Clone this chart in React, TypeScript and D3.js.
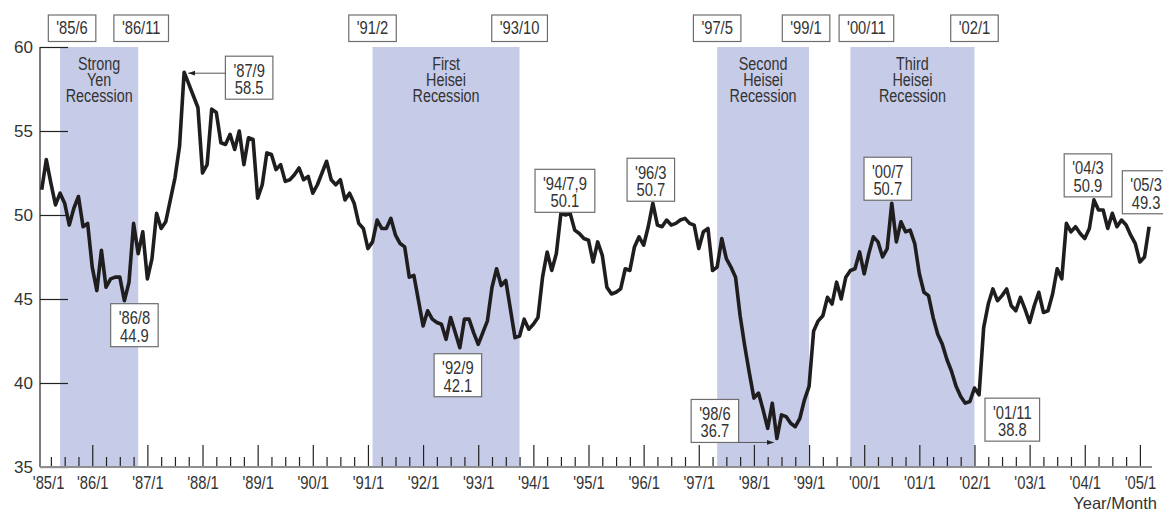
import React, { useEffect, useRef } from "react";
import * as d3 from "d3";

// monthly index, '85/2 .. '05/3 (one row per calendar year)
const seriesStart = "1985-02";
const seriesValues = [
  51.5, 53.3, 51.9, 50.6, 51.3, 50.7, 49.4, 50.4, 51.1, 49.3, 49.5,
  46.9, 45.5, 47.9, 45.7, 46.2, 46.3, 46.3, 44.9, 46.0, 49.5, 47.7, 49.0,
  46.2, 47.4, 50.1, 49.2, 49.6, 50.9, 52.2, 54.1, 58.5, 57.8, 57.1, 56.4,
  52.5, 53.0, 56.3, 56.1, 54.3, 54.2, 54.8, 53.9, 55.0, 53.0, 54.6, 54.5,
  51.0, 51.8, 53.7, 53.6, 52.7, 53.0, 52.0, 52.1, 52.4, 52.8, 52.1, 52.3,
  51.3, 51.8, 52.5, 53.2, 52.1, 51.8, 52.1, 50.9, 51.3, 50.7, 49.5, 49.2,
  48.0, 48.4, 49.7, 49.2, 49.2, 49.8, 48.8, 48.3, 48.1, 46.3, 46.4, 44.9,
  43.4, 44.3, 43.8, 43.6, 43.5, 42.6, 43.9, 43.0, 42.1, 43.8, 43.8, 43.0,
  42.3, 43.0, 43.7, 45.7, 46.8, 45.8, 46.1, 44.4, 42.7, 42.8, 43.8, 43.2,
  43.5, 43.9, 46.3, 47.8, 46.7, 47.7, 50.1, 50.0, 50.1, 49.1, 48.9, 48.6,
  48.5, 47.2, 48.4, 47.6, 45.7, 45.3, 45.4, 45.6, 46.8, 46.7, 48.1, 48.7,
  48.2, 49.3, 50.7, 49.4, 49.3, 49.7, 49.4, 49.5, 49.7, 49.8, 49.5, 49.4,
  48.0, 49.0, 49.2, 46.7, 46.9, 48.6, 47.4, 46.9, 46.3, 44.0, 42.2, 40.6,
  39.1, 39.4, 38.4, 37.3, 38.8, 36.7, 38.1, 38.0, 37.6, 37.4, 37.9, 39.0,
  39.8, 43.1, 43.7, 44.0, 45.1, 44.7, 46.0, 45.0, 46.3, 46.7, 46.8, 47.8,
  46.5, 47.7, 48.7, 48.4, 47.5, 48.0, 50.7, 48.4, 49.6, 49.0, 49.1, 48.3,
  46.5, 45.4, 45.2, 43.9, 42.9, 42.3, 41.4, 40.7, 39.8, 39.2, 38.8, 38.9,
  39.7, 39.3, 43.3, 44.7, 45.6, 44.9, 45.2, 45.6, 44.6, 44.3, 45.1, 44.4,
  43.6, 44.6, 45.4, 44.2, 44.3, 45.3, 46.8, 46.2, 49.5, 49.0, 49.3, 48.9,
  48.6, 49.2, 50.9, 50.3, 50.3, 49.2, 50.1, 49.3, 49.7, 49.4, 48.8, 48.3,
  47.2, 47.5, 49.3,
];

const yTicks = [35, 40, 45, 50, 55, 60];
const xTickLabels = [
  "'85/1", "'86/1", "'87/1", "'88/1", "'89/1", "'90/1", "'91/1",
  "'92/1", "'93/1", "'94/1", "'95/1", "'96/1", "'97/1", "'98/1",
  "'99/1", "'00/1", "'01/1", "'02/1", "'03/1", "'04/1", "'05/1",
];

// shaded recession periods
const shadeFrom = ["1985-06", "1991-02", "1997-05", "1999-10"];
const shadeTo = ["1986-11", "1993-10", "1999-01", "2002-01"];
const peakLabels = ["'85/6", "'91/2", "'97/5", "'00/11"];
const troughLabels = ["'86/11", "'93/10", "'99/1", "'02/1"];
const recessionNames = [
  ["Strong", "Yen", "Recession"],
  ["First", "Heisei", "Recession"],
  ["Second", "Heisei", "Recession"],
  ["Third", "Heisei", "Recession"],
];

// annotated turning points
const calloutMonths = [
  "1986-08", "1987-09", "1992-09", "1994-07", "1996-03",
  "1998-06", "2000-07", "2001-11", "2004-03", "2005-03",
];
const calloutTitles = [
  "'86/8", "'87/9", "'92/9", "'94/7,9", "'96/3",
  "'98/6", "'00/7", "'01/11", "'04/3", "'05/3",
];

// layout only: box offset from the point (center dx, top dy) and arrow side
const calloutLayout: [number, number, string][] = [
  [10, 3, ""], [65, -16, "left"], [-2, 6, ""], [4, -44, ""], [-2, -45, ""],
  [-62, -39, "right"], [-4, -46, ""], [47, -5, ""], [-6, -46, ""], [-3, -56, ""],
];
const peakNudge = [12, 0, 0, 16];
const troughNudge = [3, 0, -3, 0];

const FONT = "'Liberation Sans', Arial, sans-serif";
const INK = "#333";
const SQUEEZE = 0.82; // narrow face is not installed, squeeze the regular one

const monthIdx = (s: string) => {
  const [yy, mm] = s.split("-").map(Number);
  return (yy - 1985) * 12 + (mm - 1);
};

// horizontal squeeze around the text's own box
const condense = (sel: any, origin = "center") =>
  sel
    .style("transform-box", "fill-box")
    .style("transform-origin", origin)
    .style("transform", `scaleX(${SQUEEZE})`);

export default function App() {
  const ref = useRef<SVGSVGElement>(null);

  useEffect(() => {
    const svg = d3.select(ref.current);
    svg.selectAll("*").remove();

    const x = d3.scaleLinear().domain([0, 240]).range([37.1, 1139.9]);
    const y = d3.scaleLinear().domain([35, 60]).range([467, 47]);
    const left = 40;
    const right = 1152;
    const start = monthIdx(seriesStart);

    // bands
    const bands = shadeFrom.map((s, i) => ({
      x0: x(monthIdx(s)),
      x1: x(monthIdx(shadeTo[i])),
      name: recessionNames[i],
    }));
    svg.append("g")
      .selectAll("rect")
      .data(bands)
      .join("rect")
      .attr("x", (d) => d.x0)
      .attr("y", y(60))
      .attr("width", (d) => d.x1 - d.x0)
      .attr("height", y(35) - y(60))
      .attr("fill", "#c6cbe8");

    bands.forEach((b) => {
      b.name.forEach((w, j) =>
        svg.append("text")
          .attr("x", (b.x0 + b.x1) / 2)
          .attr("y", 70 + j * 16)
          .attr("text-anchor", "middle")
          .attr("font-family", FONT)
          .attr("font-size", 17.5)
          .attr("fill", INK)
          .text(w)
          .call(condense)
      );
    });

    // y axis
    const gy = svg.append("g")
      .attr("transform", `translate(${left},0)`)
      .call(d3.axisLeft(y).tickValues(yTicks).tickSize(-28).tickPadding(7));
    gy.select(".domain").remove();
    gy.selectAll(".tick line").attr("stroke", "#222").attr("stroke-width", 1.2);
    gy.selectAll(".tick text")
      .attr("font-family", FONT)
      .attr("font-size", 17)
      .attr("fill", INK);
    gy.append("line")
      .attr("y1", y(60))
      .attr("y2", y(35))
      .attr("stroke", "#222")
      .attr("stroke-width", 1.2);

    // x axis: quarterly minor ticks, yearly major ticks
    const majors = xTickLabels.map((_, i) => i * 12);
    const minors = d3.range(3, 241, 3).filter((m) => m % 12 !== 0);
    const gxm = svg.append("g")
      .attr("transform", `translate(0,${y(35)})`)
      .call(d3.axisBottom(x).tickValues(minors).tickSize(-10).tickFormat(() => ""));
    gxm.select(".domain").remove();
    gxm.selectAll(".tick line").attr("stroke", "#222").attr("stroke-width", 1.2);

    const gx = svg.append("g")
      .attr("transform", `translate(0,${y(35)})`)
      .call(
        d3.axisBottom(x)
          .tickValues(majors)
          .tickSize(-22)
          .tickPadding(9)
          .tickFormat((d) => xTickLabels[Math.round(+d / 12)])
      );
    gx.select(".domain").remove();
    gx.selectAll(".tick line").attr("stroke", "#222").attr("stroke-width", 1.2);
    gx.selectAll(".tick text")
      .attr("font-family", FONT)
      .attr("font-size", 18)
      .attr("fill", INK)
      .call(condense);
    gx.selectAll<SVGGElement, number>(".tick")
      .filter((d) => d === 0)
      .call((g) => g.select("line").remove())
      .select("text")
      .attr("x", 11);

    svg.append("line")
      .attr("x1", left)
      .attr("x2", right)
      .attr("y1", y(35))
      .attr("y2", y(35))
      .attr("stroke", "#8f8f8f")
      .attr("stroke-width", 2);

    svg.append("text")
      .attr("x", 1157)
      .attr("y", 509)
      .attr("text-anchor", "end")
      .attr("font-family", FONT)
      .attr("font-size", 16.5)
      .attr("fill", INK)
      .text("Year/Month");

    // index line
    const line = d3.line<number>()
      .x((_, i) => x(start + i))
      .y((v) => y(v));
    svg.append("path")
      .datum(seriesValues)
      .attr("d", line)
      .attr("fill", "none")
      .attr("stroke", "#1f1d1e")
      .attr("stroke-width", 3.6)
      .attr("stroke-linejoin", "round");

    // boxed labels
    const defs = svg.append("defs");
    defs.append("marker")
      .attr("id", "arrowhead")
      .attr("viewBox", "0 0 10 10")
      .attr("refX", 10)
      .attr("refY", 5)
      .attr("markerWidth", 7)
      .attr("markerHeight", 7)
      .attr("orient", "auto")
      .append("path")
      .attr("d", "M0,1.5 L10,5 L0,8.5 Z")
      .attr("fill", "#222");

    const labelBox = (cx: number, top: number, lines: string[], h: number) => {
      const g = svg.append("g");
      const rect = g.append("rect");
      const base = lines.length === 1 ? [19.5] : [20.5, 38];
      const texts = lines.map((s, j) =>
        g.append("text")
          .attr("x", cx)
          .attr("y", top + base[j])
          .attr("text-anchor", "middle")
          .attr("font-family", FONT)
          .attr("font-size", 18)
          .attr("fill", INK)
          .text(s)
          .call(condense)
      );
      const textW = d3.max(texts, (t) => (t.node() as SVGTextElement).getComputedTextLength()) || 36;
      const w = textW * SQUEEZE + 16;
      rect.attr("x", cx - w / 2)
        .attr("y", top)
        .attr("width", w)
        .attr("height", h)
        .attr("fill", "#fff")
        .attr("stroke", "#6e6e6e")
        .attr("stroke-width", 1.2);
      return { x0: cx - w / 2, x1: cx + w / 2 };
    };

    bands.forEach((b, i) => {
      labelBox(b.x0 + peakNudge[i], 15, [peakLabels[i]], 26.5);
      labelBox(b.x1 + troughNudge[i], 15, [troughLabels[i]], 26.5);
    });

    calloutMonths.forEach((m, i) => {
      const idx = monthIdx(m);
      const v = seriesValues[idx - start];
      const px = x(idx);
      const py = y(v);
      const [dx, dy, arrow] = calloutLayout[i];
      const top = py + dy;
      const box = labelBox(px + dx, top, [calloutTitles[i], d3.format(".1f")(v)], 43);
      if (arrow === "left") {
        svg.append("line")
          .attr("x1", box.x0)
          .attr("x2", px + 4)
          .attr("y1", py + 1)
          .attr("y2", py + 1)
          .attr("stroke", "#555")
          .attr("stroke-width", 1)
          .attr("marker-end", "url(#arrowhead)");
      } else if (arrow === "right") {
        svg.append("line")
          .attr("x1", box.x1)
          .attr("x2", px - 3)
          .attr("y1", top + 43)
          .attr("y2", top + 43)
          .attr("stroke", "#555")
          .attr("stroke-width", 1)
          .attr("marker-end", "url(#arrowhead)");
      }
    });
  }, []);

  return (
    <svg
      ref={ref}
      width={1163}
      height={511}
      style={{ position: "absolute", left: 0, top: 0, background: "#fff" }}
    />
  );
}
